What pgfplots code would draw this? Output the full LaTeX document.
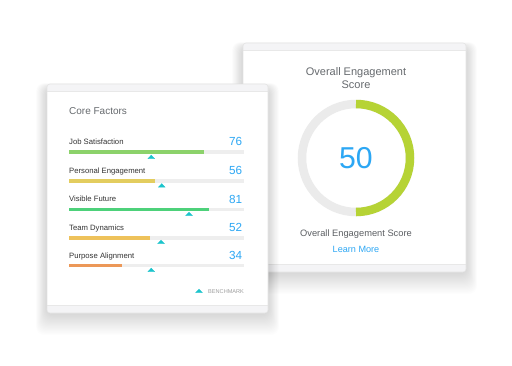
\documentclass[border=0pt]{standalone}
\usepackage{fontspec}
\setmainfont{Liberation Sans}
\usepackage{pgfplots}
\pgfplotsset{compat=1.18}
\definecolor{jobgreen}{HTML}{8CD26B}
\definecolor{persyellow}{HTML}{E3CD5F}
\definecolor{visgreen}{HTML}{4DD17A}
\definecolor{teamyellow}{HTML}{EEC25B}
\definecolor{purporange}{HTML}{EC9858}
\definecolor{benchteal}{HTML}{1BC4CC}
\definecolor{numblue}{HTML}{2CA7F4}
\definecolor{trackgray}{HTML}{EEEEEE}
\definecolor{ringgray}{HTML}{EBEBEB}
\definecolor{ringgreen}{HTML}{B6D335}
\definecolor{labeldark}{HTML}{333333}
\definecolor{titlegray}{HTML}{666A6E}
\definecolor{bandgray}{HTML}{F4F4F6}
\newcommand\cardshadow[4]{%
  \foreach \k in {1,...,20}{%
    \fill[black,opacity=0.0075,rounded corners=8pt] ({#1-0.55*\k},{#2-0.25*\k+4}) rectangle ({#3+0.55*\k},{#4+1.1*\k});
  }}
\newcommand\card[4]{%
  \fill[white,rounded corners=3pt] (#1,#2) rectangle (#3,#4);
  \begin{scope}
  \clip[rounded corners=3pt] (#1,#2) rectangle (#3,#4);
  \fill[bandgray] (#1,#2) rectangle (#3,#2+7);
  \fill[bandgray] (#1,#4-8) rectangle (#3,#4);
  \draw[black!9,line width=0.5pt] (#1,#2+7) -- (#3,#2+7);
  \draw[black!9,line width=0.5pt] (#1,#4-8) -- (#3,#4-8);
  \end{scope}
  \draw[black!11,line width=0.6pt,rounded corners=3pt] (#1,#2) rectangle (#3,#4);}
\begin{document}
\begin{tikzpicture}[x=1pt,y=-1pt]
\fill[white] (0,0) rectangle (512,365);
\useasboundingbox (0,0) rectangle (512,365);
% ---------- right card ----------
\cardshadow{243}{43}{466}{272}
\card{243}{43}{466}{272}
\node[anchor=base,inner sep=0pt,font=\fontsize{11}{13}\selectfont,text=titlegray] at (356,75) {Overall Engagement};
\node[anchor=base,inner sep=0pt,font=\fontsize{11}{13}\selectfont,text=titlegray] at (356,88) {Score};
\node[anchor=base,inner sep=0pt,font=\fontsize{9.3}{11}\selectfont,text=titlegray!90!black] at (356,236.5) {Overall Engagement Score};
\node[anchor=base,inner sep=0pt,font=\fontsize{9.1}{11}\selectfont,text=numblue] at (356,252.5) {Learn More};
\begin{axis}[at={(356pt,-158pt)},anchor=center,scale only axis,width=120pt,height=120pt,
  xmin=-60,xmax=60,ymin=-60,ymax=60,hide axis,clip=false]
\draw[ringgray,line width=8.5pt] (axis cs:0,0) circle[radius=54];
\draw[ringgreen,line width=8.5pt] (axis cs:0,54) arc[start angle=90,end angle=-90,radius=54];
\node[anchor=base,inner sep=0pt,font=\fontsize{30.2}{32}\selectfont,text=numblue] at (axis cs:0,-10.3) {50};
\end{axis}
% ---------- left card ----------
\cardshadow{47}{84}{268}{313}
\card{47}{84}{268}{313}
\node[anchor=base west,inner sep=0pt,font=\fontsize{10}{12}\selectfont,text=titlegray] at (69,114.6) {Core Factors};
\node[anchor=base west,inner sep=0pt,font=\fontsize{5.6}{7}\selectfont,text=black!38] at (208,293) {BENCHMARK};
\begin{axis}[at={(69pt,-130pt)},anchor=north west,scale only axis,width=175pt,height=170pt,
  xmin=0,xmax=100,ymin=130,ymax=300,y dir=reverse,hide axis,clip=false]
% tracks
\addplot[trackgray,line width=3.5pt] coordinates {(0,152) (100,152)};
\addplot[trackgray,line width=3.5pt] coordinates {(0,181) (100,181)};
\addplot[trackgray,line width=3.5pt] coordinates {(0,209.5) (100,209.5)};
\addplot[trackgray,line width=3.5pt] coordinates {(0,238) (100,238)};
\addplot[trackgray,line width=3.5pt] coordinates {(0,265.5) (100,265.5)};
% bars
\addplot[jobgreen,line width=3.5pt] coordinates {(0,152) (77,152)};
\addplot[persyellow,line width=3.5pt] coordinates {(0,181) (49,181)};
\addplot[visgreen,line width=3.5pt] coordinates {(0,209.5) (80,209.5)};
\addplot[teamyellow,line width=3.5pt] coordinates {(0,238) (46,238)};
\addplot[purporange,line width=3.5pt] coordinates {(0,265.5) (30,265.5)};
% benchmarks
\addplot[benchteal,only marks,mark=triangle*,mark size=4pt,mark options={yscale=0.6,fill=benchteal,draw=benchteal,line width=0.2pt}]
  coordinates {(47,157.5) (53,186) (68.6,214.5) (52.6,242.5) (47,270.5) (74.3,291.5)};
% labels
\node[anchor=base west,inner sep=0pt,font=\fontsize{7.7}{9}\selectfont,text=labeldark] at (axis cs:0,144) {Job Satisfaction};
\node[anchor=base west,inner sep=0pt,font=\fontsize{7.7}{9}\selectfont,text=labeldark] at (axis cs:0,173) {Personal Engagement};
\node[anchor=base west,inner sep=0pt,font=\fontsize{7.7}{9}\selectfont,text=labeldark] at (axis cs:0,201.5) {Visible Future};
\node[anchor=base west,inner sep=0pt,font=\fontsize{7.7}{9}\selectfont,text=labeldark] at (axis cs:0,230) {Team Dynamics};
\node[anchor=base west,inner sep=0pt,font=\fontsize{7.7}{9}\selectfont,text=labeldark] at (axis cs:0,258) {Purpose Alignment};
\node[anchor=base east,inner sep=0pt,font=\fontsize{11.7}{13}\selectfont,text=numblue] at (axis cs:99,145.3) {76};
\node[anchor=base east,inner sep=0pt,font=\fontsize{11.7}{13}\selectfont,text=numblue] at (axis cs:99,174.3) {56};
\node[anchor=base east,inner sep=0pt,font=\fontsize{11.7}{13}\selectfont,text=numblue] at (axis cs:99,203) {81};
\node[anchor=base east,inner sep=0pt,font=\fontsize{11.7}{13}\selectfont,text=numblue] at (axis cs:99,231.3) {52};
\node[anchor=base east,inner sep=0pt,font=\fontsize{11.7}{13}\selectfont,text=numblue] at (axis cs:99,259) {34};
\end{axis}
\end{tikzpicture}
\end{document}
